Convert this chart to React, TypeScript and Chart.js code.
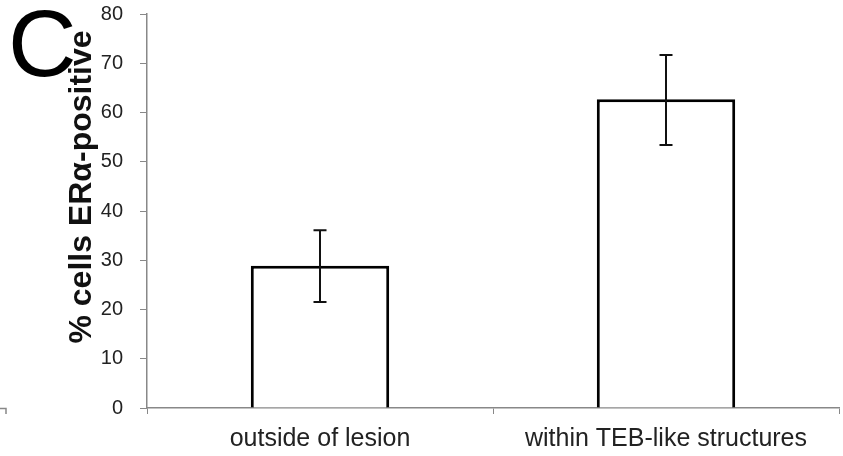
import React, { useEffect, useRef } from "react";
import { Chart, registerables } from "chart.js";

Chart.register(...registerables);

const categories = ["outside of lesion", "within TEB-like structures"];
const values = [28.9, 62.7];
const errLow = [21.5, 53.4];
const errHigh = [36.1, 71.7];
const yTicks = [0, 10, 20, 30, 40, 50, 60, 70, 80];
const yTitle = "% cells ERα-positive";
const panelLabel = "C";

const FONT = "'Liberation Sans', Arial, sans-serif";

const overlayPlugin = {
  id: "overlay",
  afterDatasetsDraw(chart: any) {
    const ctx = chart.ctx;
    const x = chart.scales.x;
    const y = chart.scales.y;
    ctx.save();
    ctx.strokeStyle = "#111";
    ctx.lineWidth = 2;
    values.forEach((_, i) => {
      const cx = x.getPixelForValue(i);
      const top = y.getPixelForValue(errHigh[i]);
      const bot = y.getPixelForValue(errLow[i]);
      ctx.beginPath();
      ctx.moveTo(cx, top);
      ctx.lineTo(cx, bot);
      ctx.moveTo(cx - 6.5, top);
      ctx.lineTo(cx + 6.5, top);
      ctx.moveTo(cx - 6.5, bot);
      ctx.lineTo(cx + 6.5, bot);
      ctx.stroke();
    });
    ctx.restore();
  },
  afterDraw(chart: any) {
    const ctx = chart.ctx;
    ctx.save();
    ctx.fillStyle = "#000";
    ctx.font = `95px ${FONT}`;
    ctx.textBaseline = "alphabetic";
    ctx.textAlign = "left";
    ctx.fillText(panelLabel, 8, 76);
    ctx.translate(91, 187);
    ctx.rotate(-Math.PI / 2);
    ctx.font = `bold 32px ${FONT}`;
    ctx.textAlign = "center";
    ctx.textBaseline = "alphabetic";
    ctx.fillStyle = "#111";
    ctx.fillText(yTitle, 0, 0);
    ctx.restore();
    ctx.save();
    ctx.strokeStyle = "#888";
    ctx.lineWidth = 1.5;
    ctx.beginPath();
    ctx.moveTo(0, 408.5);
    ctx.lineTo(6, 408.5);
    ctx.lineTo(6, 414);
    ctx.stroke();
    ctx.restore();
  },
};

export default function App() {
  const ref = useRef<HTMLCanvasElement>(null);
  useEffect(() => {
    if (!ref.current) return;
    const chart = new Chart(ref.current, {
      type: "bar",
      data: {
        labels: categories,
        datasets: [
          {
            data: values,
            backgroundColor: "#ffffff",
            borderColor: "#000000",
            borderWidth: 3,
            barPercentage: 0.4,
            categoryPercentage: 1,
          },
        ],
      },
      options: {
        responsive: false,
        animation: false,
        layout: { padding: { top: 14, right: 4, left: 0, bottom: 0 } },
        plugins: { legend: { display: false }, tooltip: { enabled: false } },
        scales: {
          x: {
            grid: {
              offset: true,
              drawOnChartArea: false,
              drawTicks: true,
              tickLength: 6,
              color: "#888",
            },
            border: { display: true, color: "#888", width: 1.5 },
            ticks: {
              color: "#222",
              font: { family: FONT, size: 25 },
              padding: 10,
            },
            afterFit(scale: any) {
              scale.height = 48;
              scale.paddingLeft = 0;
              scale.paddingRight = 0;
            },
          },
          y: {
            min: 0,
            max: 80,
            afterBuildTicks(scale: any) {
              scale.ticks = yTicks.map((v) => ({ value: v }));
            },
            grid: {
              drawOnChartArea: false,
              drawTicks: true,
              tickLength: 7,
              color: "#888",
            },
            border: { display: true, color: "#888", width: 1.5 },
            ticks: {
              color: "#222",
              font: { family: FONT, size: 20 },
              padding: 17,
            },
            afterFit(scale: any) {
              scale.width = 147;
              scale.paddingTop = 0;
              scale.paddingBottom = 0;
            },
          },
        },
      },
      plugins: [overlayPlugin],
    });
    return () => chart.destroy();
  }, []);
  return (
    <div style={{ position: "absolute", left: 0, top: 0, width: 843, height: 456, background: "#fff" }}>
      <canvas ref={ref} width={843} height={456} />
    </div>
  );
}
